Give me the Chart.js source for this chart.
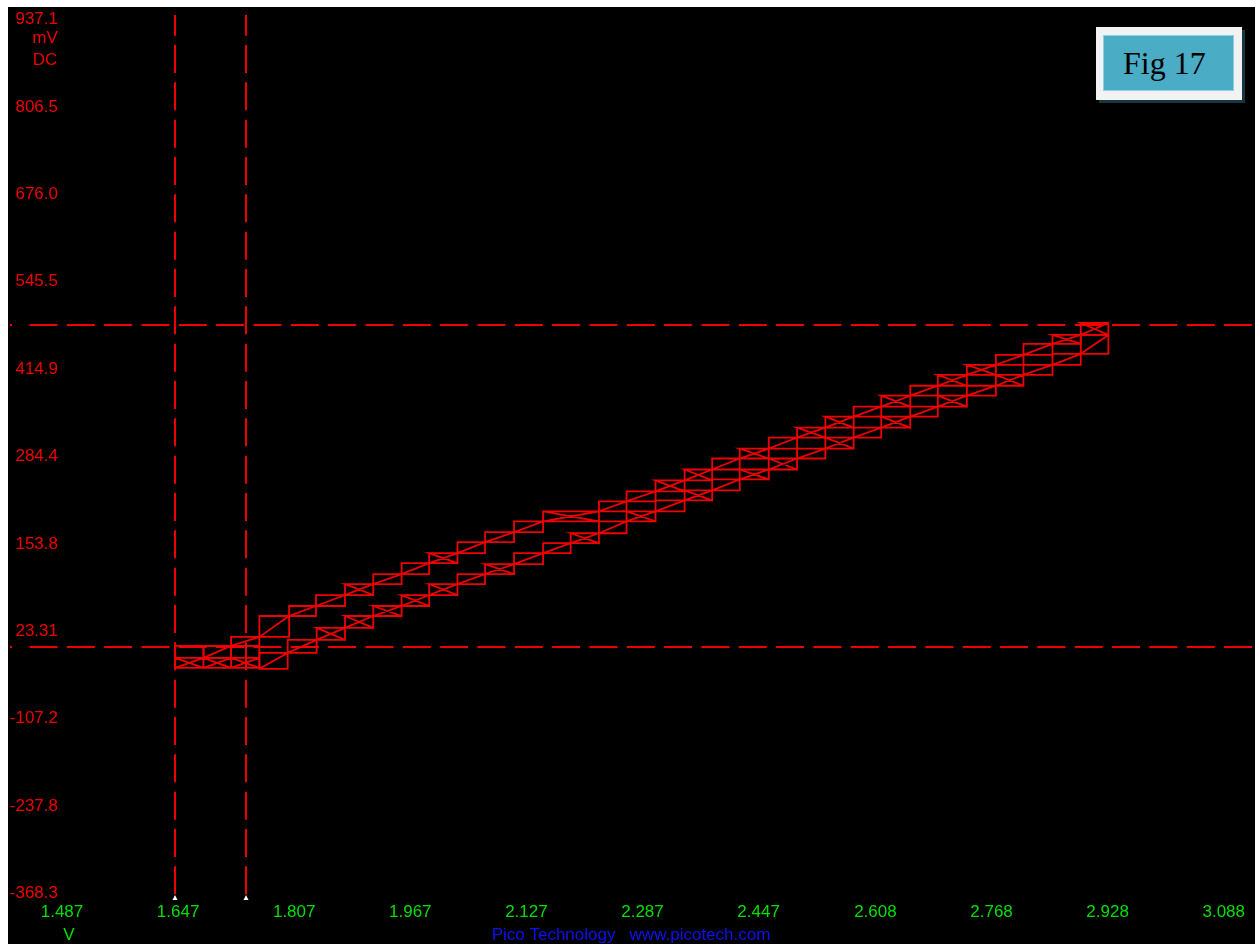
<!DOCTYPE html>
<html>
<head>
<meta charset="utf-8">
<script src="https://cdn.jsdelivr.net/npm/chart.js@4/dist/chart.umd.min.js"></script>
<style>
  html, body { margin: 0; padding: 0; background: #fff; width: 1255px; height: 944px; overflow: hidden; }
  #scope { position: absolute; left: 8px; top: 7px; width: 1247px; height: 937px; background: #000; }
  #scope canvas { display: block; }
  #tag { position: absolute; left: 1096px; top: 27px; width: 146px; height: 73px; background: #f2f2f2; box-shadow: 3px 3px 0 #17363d; }
  #tag .inner { position: absolute; left: 7px; top: 8px; width: 131px; height: 56px; background: #4bacc6; border: 1px solid #8fd0e2; box-sizing: border-box; }
  #tag span { position: absolute; left: 27px; top: 20px; font: 32px/32px "Liberation Serif", serif; color: #000; white-space: nowrap; }
</style>
</head>
<body>
<div id="scope"><canvas id="c" width="1247" height="937"></canvas></div>
<div id="tag"><div class="inner"></div><span>Fig 17</span></div>
<script>
// Axis ticks (channel A in volts along X, channel B in millivolts along Y)
const xTickValues = [1.487, 1.647, 1.807, 1.967, 2.127, 2.287, 2.447, 2.608, 2.768, 2.928, 3.088];
const xTickLabels = ['1.487', '1.647', '1.807', '1.967', '2.127', '2.287', '2.447', '2.608', '2.768', '2.928', '3.088'];
const yTickValues = [937.1, 806.5, 676.0, 545.5, 414.9, 284.4, 153.8, 23.31, -107.2, -237.8, -368.3];
const yTickLabels = ['937.1', '806.5', '676.0', '545.5', '414.9', '284.4', '153.8', '23.31', '-107.2', '-237.8', '-368.3'];

// Cursor positions
const cursorVolts = [1.643, 1.741];
const cursorMillivolts = [481.0, 0.0];

// Flat bottom of the loop: step edges (V) and levels (mV)
const floorVolts = [1.643, 1.682, 1.720, 1.759];
const floorMillivolts = [-31.2, -16.3, 1.6];

// Upper staircase: step corners (V, mV) and which steps show a crossed cell
const upperVolts = [1.682, 1.720, 1.759, 1.800, 1.837, 1.877, 1.916, 1.955, 1.993, 2.032, 2.070, 2.110, 2.150, 2.227,
  2.265, 2.305, 2.345, 2.383, 2.421, 2.461, 2.500, 2.539, 2.578, 2.616, 2.656, 2.694, 2.734, 2.774, 2.812, 2.852, 2.891, 2.929];
const upperMillivolts = [-16.3, 1.6, 15.0, 46.2, 61.1, 77.5, 93.9, 108.8, 125.1, 140.0, 156.4, 171.3, 187.6, 202.5,
  217.4, 232.3, 248.7, 265.0, 281.4, 296.3, 312.7, 327.6, 343.9, 358.8, 375.2, 390.1, 406.4, 421.3, 436.2, 452.6, 466.0, 483.8];
const upperCrossed = [0, 0, 0, 0, 0, 1, 0, 0, 1, 0, 0, 0, 1, 0, 0, 1, 1, 0, 1, 0, 1, 1, 0, 1, 0, 1, 1, 0, 0, 1, 1];

// Lower staircase
const lowerVolts = [1.759, 1.798, 1.838, 1.877, 1.916, 1.955, 1.993, 2.032, 2.070, 2.110, 2.150, 2.188, 2.227, 2.265,
  2.305, 2.345, 2.383, 2.421, 2.461, 2.500, 2.539, 2.578, 2.616, 2.656, 2.694, 2.734, 2.774, 2.812, 2.852, 2.891, 2.929];
const lowerMillivolts = [-32.7, -8.9, 10.5, 28.4, 46.2, 61.1, 77.5, 93.9, 108.8, 123.6, 140.0, 154.9, 169.8, 187.6,
  202.5, 218.9, 233.8, 250.2, 265.0, 281.4, 296.3, 312.7, 327.6, 343.9, 358.8, 375.2, 390.1, 406.4, 421.3, 437.7, 466.0];
const lowerCrossed = [0, 0, 1, 1, 1, 1, 1, 0, 1, 0, 0, 1, 0, 1, 0, 1, 0, 1, 1, 0, 1, 0, 1, 0, 1, 0, 1, 0, 0, 0];

const RED = 'rgb(240,0,0)';
const GREEN = '#00e000';
const BLUE = '#1010f4';
const FONT = '"Liberation Sans", Arial, sans-serif';

// Each step is a cell from one corner to the next: outline, rising diagonal,
// and optionally the second diagonal.
function stepTrace(xs, ys, crossed) {
  const pts = [];
  for (let i = 0; i < xs.length - 1; i++) {
    const A = { x: xs[i], y: ys[i] };
    const B = { x: xs[i + 1], y: ys[i] };
    const C = { x: xs[i + 1], y: ys[i + 1] };
    const D = { x: xs[i], y: ys[i + 1] };
    if (i === 0) pts.push(A);
    pts.push(B, C, D, A, C);
    if (crossed[i]) pts.push(B, D, C);
  }
  return pts;
}

// Grid of cells along the flat bottom, with crossed cells in the lowest row.
function floorTrace(xs, levels) {
  const pts = [];
  const brk = () => pts.push({ x: xs[0], y: null });
  const lo = levels[0], hi = levels[levels.length - 1];
  levels.forEach(l => { pts.push({ x: xs[0], y: l }, { x: xs[xs.length - 1], y: l }); brk(); });
  xs.forEach(v => { pts.push({ x: v, y: lo }, { x: v, y: hi }); brk(); });
  for (let i = 0; i < xs.length - 1; i++) {
    pts.push({ x: xs[i], y: levels[0] }, { x: xs[i + 1], y: levels[1] }); brk();
    pts.push({ x: xs[i], y: levels[1] }, { x: xs[i + 1], y: levels[0] }); brk();
  }
  return pts;
}

const traceStyle = { showLine: true, borderColor: RED, borderWidth: 1.8, pointRadius: 0, tension: 0, clip: false, spanGaps: false };

const scopeOverlay = {
  id: 'scopeOverlay',
  beforeDatasetsDraw(chart) {
    const { ctx, width, scales: { x, y } } = chart;
    ctx.save();
    ctx.strokeStyle = RED;
    ctx.lineWidth = 2;
    ctx.setLineDash([28, 9.33]);
    cursorVolts.forEach(v => {
      const px = Math.round(x.getPixelForValue(v));
      ctx.lineDashOffset = 7.3;
      ctx.beginPath(); ctx.moveTo(px, 8); ctx.lineTo(px, 888); ctx.stroke();
    });
    cursorMillivolts.forEach(v => {
      const py = Math.round(y.getPixelForValue(v));
      ctx.lineDashOffset = 0;
      ctx.beginPath(); ctx.moveTo(21.5, py); ctx.lineTo(width, py); ctx.stroke();
      ctx.setLineDash([]);
      ctx.beginPath(); ctx.moveTo(2, py); ctx.lineTo(4, py); ctx.stroke();
      ctx.setLineDash([28, 9.33]);
    });
    ctx.setLineDash([]);
    // small markers at the foot of the vertical cursors
    ctx.fillStyle = '#ffffff';
    cursorVolts.forEach(v => {
      const px = Math.round(x.getPixelForValue(v));
      ctx.beginPath(); ctx.moveTo(px - 2.5, 893); ctx.lineTo(px + 2.5, 893); ctx.lineTo(px, 888); ctx.closePath(); ctx.fill();
    });
    ctx.restore();
  },
  afterDraw(chart) {
    const { ctx, scales: { x } } = chart;
    ctx.save();
    ctx.font = '17px ' + FONT;
    ctx.textAlign = 'center';
    ctx.textBaseline = 'middle';
    ctx.fillStyle = RED;
    ctx.fillText('mV', 37, 31.5);
    ctx.fillText('DC', 37, 53);
    ctx.fillStyle = GREEN;
    ctx.fillText('V', x.getPixelForValue(xTickValues[0]) + 7, 928);
    ctx.fillStyle = BLUE;
    ctx.fillText('Pico Technology   www.picotech.com', 623, 928);
    ctx.restore();
  }
};

new Chart(document.getElementById('c'), {
  type: 'scatter',
  data: {
    datasets: [
      Object.assign({ data: floorTrace(floorVolts, floorMillivolts) }, traceStyle),
      Object.assign({ data: stepTrace(upperVolts, upperMillivolts, upperCrossed) }, traceStyle),
      Object.assign({ data: stepTrace(lowerVolts, lowerMillivolts, lowerCrossed) }, traceStyle)
    ]
  },
  options: {
    responsive: false,
    animation: false,
    events: [],
    layout: { padding: { top: 9.5, right: 26, left: 0, bottom: 0 } },
    plugins: { legend: { display: false }, tooltip: { enabled: false } },
    scales: {
      x: {
        type: 'linear', position: 'bottom', min: 1.487, max: 3.088,
        grid: { display: false, drawTicks: false }, border: { display: false },
        afterBuildTicks: s => { s.ticks = xTickValues.map(v => ({ value: v })); },
        afterFit: s => { s.height = 50.5; },
        ticks: { color: GREEN, font: { family: FONT, size: 17, lineHeight: 1 }, padding: 10, maxRotation: 0, minRotation: 0, autoSkip: false,
          callback: (v, i) => xTickLabels[i] }
      },
      y: {
        type: 'linear', position: 'left', min: -368.3, max: 937.1,
        grid: { display: false, drawTicks: false }, border: { display: false },
        afterBuildTicks: s => { s.ticks = yTickValues.map(v => ({ value: v })); },
        afterFit: s => { s.width = 54; },
        ticks: { color: RED, font: { family: FONT, size: 17, lineHeight: 1 }, padding: 4, autoSkip: false,
          callback: (v, i) => yTickLabels[i] }
      }
    }
  },
  plugins: [scopeOverlay]
});
</script>
</body>
</html>
